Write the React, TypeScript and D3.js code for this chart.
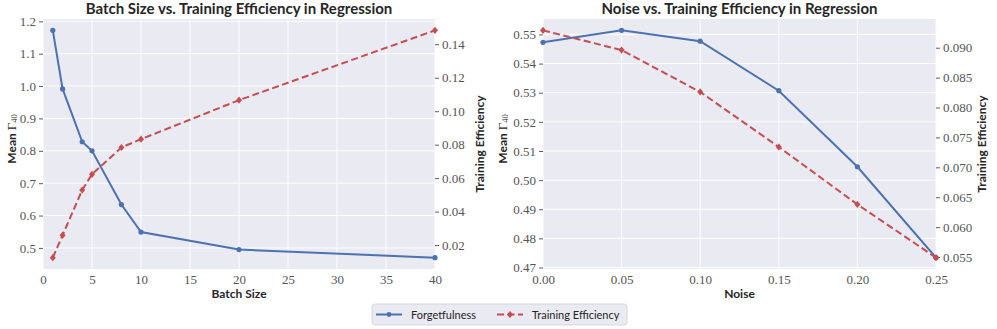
import React, { useEffect, useRef } from 'react';
import * as d3 from 'd3';

// batch size panel
const batchSizes = [1, 2, 4, 5, 8, 10, 20, 40];
const batchForget = [1.172, 0.991, 0.828, 0.8, 0.634, 0.549, 0.495, 0.47];
const batchEff = [0.0125, 0.0259, 0.0529, 0.0623, 0.0783, 0.0833, 0.1066, 0.1483];
const batchXTicks = [0, 5, 10, 15, 20, 25, 30, 35, 40];
const batchLeftTicks = [0.5, 0.6, 0.7, 0.8, 0.9, 1.0, 1.1, 1.2];
const batchRightTicks = [0.02, 0.04, 0.06, 0.08, 0.1, 0.12, 0.14];

// noise panel
const noiseLevels = [0, 0.05, 0.1, 0.15, 0.2, 0.25];
const noiseForget = [0.5473, 0.5514, 0.5477, 0.5307, 0.5046, 0.4734];
const noiseEff = [0.0929, 0.0896, 0.0826, 0.0734, 0.0638, 0.0549];
const noiseXTicks = [0, 0.05, 0.1, 0.15, 0.2, 0.25];
const noiseLeftTicks = [0.47, 0.48, 0.49, 0.5, 0.51, 0.52, 0.53, 0.54, 0.55];
const noiseRightTicks = [0.055, 0.06, 0.065, 0.07, 0.075, 0.08, 0.085, 0.09];

const BLUE = '#4C72B0';
const RED = '#C44E52';
const TICK_FONT = "'Liberation Serif', 'Times New Roman', 'DejaVu Serif', serif";
const LABEL_FONT = "Lato, 'Open Sans', sans-serif";

function padded(vals: number[]) {
    const [lo, hi] = d3.extent(vals) as [number, number];
    const m = (hi - lo) * 0.05;
    return [lo - m, hi + m];
}

function drawPanel(svg: any, opts: any) {
    const { left, right, top, bottom, xs, forget, eff, xTicks, leftTicks, rightTicks,
        xFmt, leftFmt, rightFmt, title, xLabel } = opts;

    const x = d3.scaleLinear().domain([xTicks[0], xTicks[xTicks.length - 1]]).range([left, right]);
    const yL = d3.scaleLinear().domain(padded(forget)).range([bottom, top]);
    const yR = d3.scaleLinear().domain(padded(eff)).range([bottom, top]);

    const g = svg.append('g');

    //BACKGROUND
    g.append('rect')
        .attr('x', left).attr('y', top)
        .attr('width', right - left).attr('height', bottom - top)
        .attr('fill', '#EAEAF2');

    //GRID
    g.selectAll('.vgrid').data(xTicks).enter().append('line')
        .attr('x1', (d: number) => x(d)).attr('x2', (d: number) => x(d))
        .attr('y1', top).attr('y2', bottom)
        .attr('stroke', '#fff').attr('stroke-width', 0.9);
    g.selectAll('.hgrid').data(leftTicks).enter().append('line')
        .attr('x1', left).attr('x2', right)
        .attr('y1', (d: number) => yL(d)).attr('y2', (d: number) => yL(d))
        .attr('stroke', '#fff').attr('stroke-width', 0.9);

    //AXES
    const xAxis = g.append('g')
        .attr('transform', 'translate(0,' + bottom + ')')
        .call(d3.axisBottom(x).tickValues(xTicks).tickFormat(xFmt).tickSize(0).tickPadding(6));
    const lAxis = g.append('g')
        .attr('transform', 'translate(' + left + ',0)')
        .call(d3.axisLeft(yL).tickValues(leftTicks).tickFormat(leftFmt).tickSize(4).tickPadding(3));
    const rAxis = g.append('g')
        .attr('transform', 'translate(' + right + ',0)')
        .call(d3.axisRight(yR).tickValues(rightTicks).tickFormat(rightFmt).tickSize(4).tickPadding(3));
    [xAxis, lAxis, rAxis].forEach((a: any) => {
        a.attr('font-family', TICK_FONT).attr('font-size', 13);
        a.select('.domain').remove();
        a.selectAll('line').attr('stroke', '#333').attr('stroke-width', 0.8);
        a.selectAll('text')
            .style('font-family', TICK_FONT).style('font-size', '13px')
            .attr('fill', '#555');
    });

    //LINES
    const pts = xs.map((v: number, i: number) => ({ x: v, f: forget[i], e: eff[i] }));
    g.append('path').datum(pts)
        .attr('fill', 'none').attr('stroke', BLUE).attr('stroke-width', 2)
        .attr('d', d3.line<any>().x(d => x(d.x)).y(d => yL(d.f)));
    g.selectAll('.fdot').data(pts).enter().append('circle')
        .attr('cx', (d: any) => x(d.x)).attr('cy', (d: any) => yL(d.f))
        .attr('r', 2.6).attr('fill', BLUE);
    g.append('path').datum(pts)
        .attr('fill', 'none').attr('stroke', RED).attr('stroke-width', 2)
        .attr('stroke-dasharray', '7,3.5')
        .attr('d', d3.line<any>().x(d => x(d.x)).y(d => yR(d.e)));
    g.selectAll('.edot').data(pts).enter().append('path')
        .attr('transform', (d: any) => 'translate(' + x(d.x) + ',' + yR(d.e) + ')')
        .attr('d', 'M0,-3.6L3,0L0,3.6L-3,0Z').attr('fill', RED);

    //TITLE AND LABELS
    const mid = (left + right) / 2;
    g.append('text')
        .attr('x', mid).attr('y', 14)
        .attr('text-anchor', 'middle')
        .style('font-family', LABEL_FONT).style('font-weight', 'bold').style('font-size', '15px')
        .attr('fill', '#262626')
        .text(title);
    g.append('text')
        .attr('x', mid).attr('y', 298)
        .attr('text-anchor', 'middle')
        .style('font-family', LABEL_FONT).style('font-weight', 'bold').style('font-size', '12px')
        .attr('fill', '#262626')
        .text(xLabel);

    const yl = g.append('text')
        .attr('transform', 'translate(' + (left - opts.lLabelOff) + ',' + 139 + ') rotate(-90)')
        .attr('text-anchor', 'middle')
        .style('font-family', LABEL_FONT).style('font-weight', 'bold').style('font-size', '12px')
        .attr('fill', '#262626');
    yl.append('tspan').text('Mean ');
    yl.append('tspan')
        .style('font-family', TICK_FONT).style('font-weight', 'normal').style('font-size', '13px')
        .text('Γ');
    yl.append('tspan')
        .style('font-family', TICK_FONT).style('font-weight', 'normal').style('font-size', '8.5px')
        .attr('dy', 1).text('40');

    g.append('text')
        .attr('transform', 'translate(' + (right + opts.rLabelOff) + ',' + (top + bottom) / 2 + ') rotate(-90)')
        .attr('text-anchor', 'middle')
        .style('font-family', LABEL_FONT).style('font-weight', 'bold').style('font-size', '12px')
        .attr('fill', '#262626')
        .text('Training Efficiency');
}

function drawLegend(svg: any) {
    const g = svg.append('g').attr('transform', 'translate(372,304)');
    g.append('rect')
        .attr('x', 0).attr('y', 0).attr('width', 255).attr('height', 21).attr('rx', 3)
        .attr('fill', '#EAEAF2').attr('stroke', '#cfcfd6').attr('stroke-width', 0.8);
    g.append('line').attr('x1', 4).attr('x2', 30).attr('y1', 10.5).attr('y2', 10.5)
        .attr('stroke', BLUE).attr('stroke-width', 2);
    g.append('circle').attr('cx', 17).attr('cy', 10.5).attr('r', 2.4).attr('fill', BLUE);
    g.append('text').attr('x', 39).attr('y', 14.5)
        .style('font-family', LABEL_FONT).style('font-size', '11px').attr('fill', '#262626')
        .text('Forgetfulness');
    g.append('line').attr('x1', 125).attr('x2', 151).attr('y1', 10.5).attr('y2', 10.5)
        .attr('stroke', RED).attr('stroke-width', 2).attr('stroke-dasharray', '7,3.5');
    g.append('path').attr('transform', 'translate(138,10.5)')
        .attr('d', 'M0,-3.6L3,0L0,3.6L-3,0Z').attr('fill', RED);
    g.append('text').attr('x', 160).attr('y', 14.5)
        .style('font-family', LABEL_FONT).style('font-size', '11px').attr('fill', '#262626')
        .text('Training Efficiency');
}

export default function App() {
    const ref = useRef<SVGSVGElement>(null);

    useEffect(() => {
        const svg = d3.select(ref.current);
        svg.selectAll('*').remove();

        drawPanel(svg, {
            left: 43, right: 435, top: 19, bottom: 269,
            xs: batchSizes, forget: batchForget, eff: batchEff,
            xTicks: batchXTicks, leftTicks: batchLeftTicks, rightTicks: batchRightTicks,
            xFmt: d3.format('d'), leftFmt: d3.format('.1f'), rightFmt: d3.format('.2f'),
            title: 'Batch Size vs. Training Efficiency in Regression', xLabel: 'Batch Size',
            lLabelOff: 27, rLabelOff: 49,
        });
        drawPanel(svg, {
            left: 543, right: 936, top: 19, bottom: 269,
            xs: noiseLevels, forget: noiseForget, eff: noiseEff,
            xTicks: noiseXTicks, leftTicks: noiseLeftTicks, rightTicks: noiseRightTicks,
            xFmt: d3.format('.2f'), leftFmt: d3.format('.2f'), rightFmt: d3.format('.3f'),
            title: 'Noise vs. Training Efficiency in Regression', xLabel: 'Noise',
            lLabelOff: 36, rLabelOff: 50,
        });
        drawLegend(svg);
    }, []);

    return (
        <svg ref={ref} width={997} height={329}
            style={{ position: 'absolute', left: 0, top: 0, background: '#fff' }} />
    );
}
